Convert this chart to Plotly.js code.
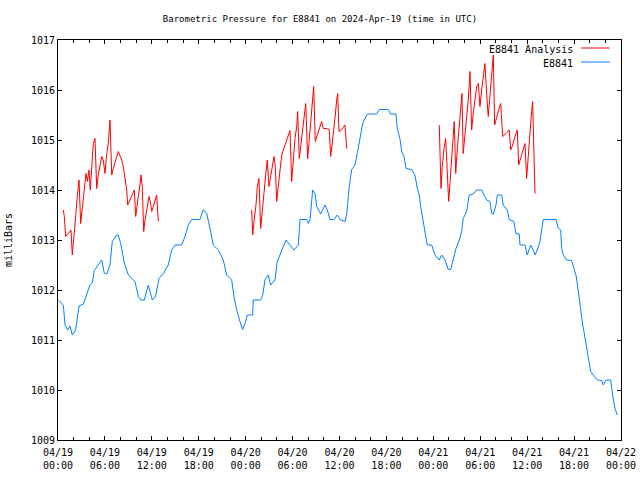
<!DOCTYPE html>
<html>
<head>
<meta charset="utf-8">
<script src="https://cdn.plot.ly/plotly-3.0.1.min.js"></script>
<style>html,body{margin:0;padding:0;background:#fff;}#chart{width:640px;height:480px;}</style>
</head>
<body>
<div id="chart"></div>
<script>
// Hours since 2024-04-19 00:00 UTC
const stationHours = [0.04,0.68,0.90,1.24,1.53,1.83,2.26,2.52,2.69,3.24,3.67,4.09,4.39,4.64,5.15,5.59,5.92,6.23,6.65,6.94,7.51,7.71,8.02,8.48,8.99,9.85,10.27,10.61,11.04,11.55,12.06,12.49,12.92,13.47,14.10,14.54,14.96,15.82,16.24,16.66,17.10,18.16,18.58,19.02,19.44,19.86,20.50,21.14,21.57,22.21,22.51,22.85,23.27,23.62,23.91,24.21,24.90,24.97,25.92,26.18,26.47,26.89,27.20,27.75,28.04,28.61,29.16,29.67,30.18,30.73,30.95,31.80,32.01,32.23,32.57,32.86,33.08,33.59,34.14,34.44,34.78,35.29,35.72,36.06,36.70,36.92,37.25,37.56,37.98,38.27,38.62,38.96,39.26,39.55,40.75,41.09,42.24,42.54,43.22,43.39,43.73,43.95,44.25,44.50,45.23,45.65,45.95,46.20,46.38,46.64,46.93,47.22,47.79,48.21,48.76,49.07,49.49,49.91,50.22,50.55,50.90,51.32,51.62,51.82,52.26,52.59,53.10,53.54,54.18,54.48,54.82,55.24,55.46,55.67,56.01,56.18,56.74,56.94,57.46,57.71,58.31,58.57,58.99,59.08,59.72,60.01,60.45,60.78,61.00,61.29,61.64,61.85,62.06,62.49,63.68,63.98,64.28,64.41,64.62,65.05,65.69,65.98,66.24,66.41,66.59,66.84,67.10,67.26,67.52,67.69,67.94,68.12,68.45,68.96,69.53,69.73,70.08,70.68,70.93,71.23,71.52];
const stationPressure = [1011.8,1011.7,1011.3,1011.2,1011.28,1011.1,1011.2,1011.47,1011.68,1011.72,1011.9,1012.1,1012.14,1012.39,1012.5,1012.6,1012.34,1012.32,1012.5,1012.97,1013.1,1013.1,1012.93,1012.54,1012.3,1012.17,1011.87,1011.8,1011.8,1012.1,1011.8,1011.88,1012.23,1012.33,1012.5,1012.8,1012.9,1012.9,1013.07,1013.3,1013.41,1013.41,1013.61,1013.53,1013.23,1012.9,1012.8,1012.6,1012.3,1012.2,1011.87,1011.6,1011.37,1011.21,1011.33,1011.5,1011.5,1011.8,1011.8,1011.9,1012.2,1012.3,1012.1,1012.2,1012.57,1012.8,1013.0,1012.9,1012.8,1012.9,1013.41,1013.41,1013.33,1013.41,1014.0,1013.93,1013.67,1013.52,1013.7,1013.6,1013.41,1013.41,1013.5,1013.41,1013.37,1013.52,1014.07,1014.41,1014.5,1014.73,1015.0,1015.33,1015.43,1015.52,1015.52,1015.61,1015.61,1015.52,1015.52,1015.23,1015.03,1014.77,1014.67,1014.43,1014.41,1014.3,1014.03,1013.9,1013.67,1013.43,1013.23,1012.9,1012.9,1012.7,1012.6,1012.7,1012.6,1012.41,1012.41,1012.63,1012.83,1013.0,1013.17,1013.43,1013.57,1013.9,1013.92,1014.0,1014.0,1013.9,1013.8,1013.77,1013.53,1013.52,1013.7,1013.9,1013.9,1013.7,1013.6,1013.41,1013.37,1013.13,1013.12,1012.9,1012.9,1012.7,1012.9,1012.8,1012.7,1012.8,1012.97,1013.2,1013.41,1013.41,1013.41,1013.23,1013.2,1012.83,1012.7,1012.6,1012.59,1012.43,1012.3,1012.13,1011.9,1011.6,1011.3,1011.17,1010.9,1010.77,1010.47,1010.37,1010.3,1010.2,1010.19,1010.1,1010.2,1010.2,1009.9,1009.63,1009.5];

// Analysis series: null separates the three runs
const analysisHours = [0.68,0.81,0.98,1.32,1.66,1.83,2.05,2.26,2.47,2.69,2.90,3.11,3.36,3.58,3.75,3.96,4.13,4.31,4.51,4.73,4.95,5.15,5.37,5.59,5.79,6.01,6.23,6.43,6.65,6.87,7.07,7.29,7.51,7.71,7.93,8.15,8.35,8.57,8.79,8.91,9.21,9.50,9.76,9.94,10.10,10.27,10.49,10.61,10.78,10.96,11.13,11.34,11.64,11.85,11.98,12.19,12.40,12.62,12.83,
 18.0,
 24.77,24.90,25.06,25.32,25.49,25.70,25.92,26.13,26.34,26.56,26.76,26.98,27.20,27.40,27.62,27.79,27.97,28.17,28.39,28.61,28.81,29.03,29.25,29.46,29.67,29.88,30.09,30.31,30.53,30.65,30.86,31.07,31.29,31.50,31.68,31.93,32.14,32.35,32.57,32.70,32.90,33.16,33.50,33.72,33.93,34.27,34.69,34.87,35.04,35.20,35.42,35.64,35.77,35.93,36.28,36.70,36.92,
 42.0,
 48.76,48.85,48.98,49.14,49.36,49.58,49.78,49.96,50.13,50.34,50.51,50.68,50.86,51.06,51.28,51.50,51.66,51.82,52.05,52.26,52.47,52.69,52.90,53.11,53.32,53.54,53.75,53.96,54.18,54.39,54.60,54.82,55.02,55.24,55.46,55.67,55.84,56.10,56.36,56.61,56.87,57.29,57.71,57.89,58.15,58.44,58.74,58.91,59.17,59.42,59.72,59.93,60.14,60.36,60.57,60.70,60.87,61.00];
const analysisPressure = [1013.6,1013.47,1013.07,1013.13,1013.2,1012.7,1013.03,1013.47,1013.87,1014.2,1013.33,1013.63,1014.0,1014.33,1014.17,1014.4,1014.0,1014.57,1014.93,1015.03,1014.03,1014.3,1014.5,1014.67,1014.6,1014.33,1014.73,1014.93,1015.4,1014.3,1014.43,1014.53,1014.67,1014.77,1014.7,1014.6,1014.47,1014.27,1014.0,1013.7,1013.8,1013.9,1014.0,1013.47,1013.73,1013.87,1014.1,1014.3,1014.07,1013.17,1013.4,1013.6,1013.87,1013.73,1013.57,1013.67,1013.8,1013.9,1013.37,
 null,
 1013.6,1013.1,1013.37,1013.7,1014.07,1014.23,1013.23,1013.53,1013.93,1014.3,1014.6,1014.07,1014.27,1014.53,1014.67,1014.47,1013.77,1014.07,1014.4,1014.7,1014.8,1014.9,1015.0,1015.1,1015.19,1014.17,1014.7,1015.03,1015.27,1015.57,1014.63,1014.9,1015.2,1015.47,1015.73,1014.63,1015.07,1015.53,1015.87,1016.07,1014.97,1015.1,1015.27,1015.37,1015.23,1015.23,1015.21,1014.67,1014.9,1015.1,1015.43,1015.8,1015.93,1015.17,1015.21,1015.3,1014.83,
 null,
 1015.3,1014.67,1014.03,1014.47,1014.83,1015.03,1014.47,1013.77,1014.13,1014.53,1015.0,1015.37,1014.33,1014.8,1015.27,1015.67,1015.93,1014.73,1015.07,1015.4,1015.8,1016.37,1015.2,1015.53,1015.83,1016.07,1016.13,1015.67,1016.0,1016.3,1016.53,1015.93,1015.47,1015.87,1016.37,1016.7,1015.3,1015.47,1015.6,1015.73,1015.07,1015.13,1015.2,1014.8,1014.9,1015.07,1015.2,1014.5,1014.63,1014.8,1014.93,1014.23,1014.73,1015.1,1015.57,1015.77,1014.4,1013.93];

const tickHours = [0,6,12,18,24,30,36,42,48,54,60,66,72];
const tickLabels = ['04/19<br>00:00','04/19<br>06:00','04/19<br>12:00','04/19<br>18:00','04/20<br>00:00','04/20<br>06:00','04/20<br>12:00','04/20<br>18:00','04/21<br>00:00','04/21<br>06:00','04/21<br>12:00','04/21<br>18:00','04/22<br>00:00'];

const analysisName = 'E8841 Analysis';
const stationName = 'E8841';
const redColor = '#ff0000';
const blueColor = '#0080ff';

const FONT = {family: 'DejaVu Sans Mono, monospace', size: 9, color: '#000'};
const XFONT = {family: 'DejaVu Sans Mono, monospace', size: 10, color: '#000'};

const traces = [
  {x: analysisHours, y: analysisPressure, name: analysisName, type: 'scatter', mode: 'lines',
   line: {color: redColor, width: 1}, connectgaps: false, showlegend: false},
  {x: stationHours, y: stationPressure, name: stationName, type: 'scatter', mode: 'lines',
   line: {color: blueColor, width: 1}, showlegend: false}
];

const layout = {
  width: 640, height: 480,
  margin: {l: 58, r: 19, t: 40, b: 40, pad: 0},
  paper_bgcolor: '#fff', plot_bgcolor: '#fff',
  font: FONT,
  title: {text: 'Barometric Pressure for E8841 on 2024-Apr-19 (time in UTC)', font: FONT,
          x: 0.5, xanchor: 'center', y: 0.96, yanchor: 'middle'},
  xaxis: {
    range: [0, 72], showgrid: false, zeroline: false,
    showline: true, linecolor: '#000', linewidth: 1, mirror: 'allticks',
    tickmode: 'array', tickvals: tickHours, ticktext: tickLabels,
    ticks: 'inside', ticklen: 4, tickcolor: '#000', tickwidth: 1,
    tickfont: XFONT, ticklabelstandoff: 3,
    minor: {tickmode: 'linear', tick0: 0, dtick: 2, ticks: 'inside', ticklen: 3, tickcolor: '#000', showgrid: false}
  },
  yaxis: {
    range: [1009, 1017], showgrid: false, zeroline: false,
    showline: true, linecolor: '#000', linewidth: 1, mirror: 'allticks',
    dtick: 1, tick0: 1009, tickformat: 'd',
    ticks: 'inside', ticklen: 4, tickcolor: '#000', tickwidth: 1,
    tickfont: XFONT,
    title: {text: 'milliBars', font: XFONT, standoff: 16}
  },
  showlegend: false,
  annotations: [
    {xref: 'paper', yref: 'paper', x: 0.918, y: 0.977, xanchor: 'right', yanchor: 'middle',
     text: analysisName, showarrow: false, font: XFONT},
    {xref: 'paper', yref: 'paper', x: 0.918, y: 0.942, xanchor: 'right', yanchor: 'middle',
     text: stationName, showarrow: false, font: XFONT}
  ],
  shapes: [
    {type: 'line', xref: 'paper', yref: 'paper', x0: 0.929, x1: 0.98, y0: 0.98, y1: 0.98,
     line: {color: redColor, width: 1}},
    {type: 'line', xref: 'paper', yref: 'paper', x0: 0.929, x1: 0.98, y0: 0.945, y1: 0.945,
     line: {color: blueColor, width: 1}}
  ]
};

Plotly.newPlot('chart', traces, layout, {staticPlot: true, displayModeBar: false});
</script>
</body>
</html>
